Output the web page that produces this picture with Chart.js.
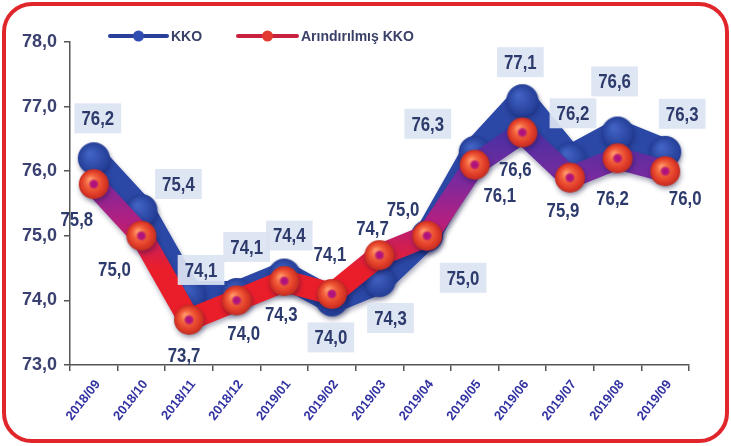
<!DOCTYPE html>
<html><head><meta charset="utf-8">
<script src="https://cdn.jsdelivr.net/npm/chart.js@4/dist/chart.umd.min.js"></script>
<style>
html,body{margin:0;padding:0;background:#fff;}
#wrap{position:relative;width:731px;height:446px;overflow:hidden;background:#fff;}
#c{position:absolute;left:0;top:0;}
#frame{position:absolute;left:2px;top:2px;right:2px;bottom:3px;border:4px solid #e0262a;border-radius:30px;pointer-events:none;}
</style></head><body>
<div id="wrap"><canvas id="c" width="731" height="446"></canvas><div id="frame"></div></div>
<script>
const categories = ['2018/09','2018/10','2018/11','2018/12','2019/01','2019/02','2019/03','2019/04','2019/05','2019/06','2019/07','2019/08','2019/09'];
const kkoValues = [76.2, 75.4, 74.1, 74.1, 74.4, 74.0, 74.3, 75.0, 76.3, 77.1, 76.2, 76.6, 76.3];
const adjustedValues = [75.8, 75.0, 73.7, 74.0, 74.3, 74.1, 74.7, 75.0, 76.1, 76.6, 75.9, 76.2, 76.0];
const seriesNames = ['KKO', 'Arındırılmış KKO'];
const yTicks = [73, 74, 75, 76, 77, 78];

const SANS = '"Liberation Sans", Arial, sans-serif';
const fmt = v => v.toFixed(1).replace('.', ',');

// label placement (pixel offsets from each point), styling only
const labelStyle = {
  0: { box: true, off: [[4,-40],[37,-26],[12,-24],[10,-47],[5,-39],[-1,37],[11,37],[36,42],[-47,-28],[-2,-38],[3,-45],[-3,-51],[17,-38]] },
  1: { box: false, off: [[-17,35],[-27,33],[-5,35],[7,33],[-3,33],[-2,-40],[-7,-27],[-24,-27],[25,30],[-7,37],[-7,33],[-5,40],[20,27]] }
};

function sphere(r, stops, dot) {
  const s = Math.ceil(r * 2 + 4);
  const c = document.createElement('canvas');
  c.width = c.height = s;
  const g = c.getContext('2d');
  const cx = s / 2;
  const grad = g.createRadialGradient(cx - r * 0.25, cx - r * 0.3, r * 0.1, cx, cx, r);
  stops.forEach(([o, col]) => grad.addColorStop(o, col));
  g.beginPath(); g.arc(cx, cx, r, 0, Math.PI * 2); g.fillStyle = grad; g.fill();
  if (dot) {
    const dg = g.createRadialGradient(cx, cx, 0, cx, cx, 5.5);
    dg.addColorStop(0, '#a8107e'); dg.addColorStop(0.6, '#b8187a'); dg.addColorStop(1, 'rgba(200,40,90,0)');
    g.beginPath(); g.arc(cx, cx, 5.5, 0, Math.PI * 2); g.fillStyle = dg; g.fill();
  }
  return c;
}
const redBall = sphere(15, [[0,'#ff9468'],[0.35,'#f2623c'],[0.75,'#e03c28'],[1,'#c02c22']], true);
const blueBall = sphere(16, [[0,'#4262c4'],[0.6,'#2f4ca8'],[1,'#243e96']], false);

function redGradient(context) {
  const chart = context.chart;
  const { ctx, chartArea, scales } = chart;
  if (!chartArea) return '#e0202a';
  const y = scales.y;
  const g = ctx.createLinearGradient(0, y.getPixelForValue(76.6), 0, y.getPixelForValue(74.5));
  g.addColorStop(0, '#4a30a2');
  g.addColorStop(0.35, '#7a2a9e');
  g.addColorStop(0.65, '#b21f80');
  g.addColorStop(1, '#ea1e2a');
  return g;
}

const shadowPlugin = {
  id: 'shadow',
  beforeDatasetDraw(chart) {
    const c = chart.ctx; c.save();
    c.shadowColor = 'rgba(10,10,60,0.35)'; c.shadowBlur = 5; c.shadowOffsetX = 1; c.shadowOffsetY = 3;
  },
  afterDatasetDraw(chart) { chart.ctx.restore(); }
};

const labelPlugin = {
  id: 'valueLabels',
  afterDatasetsDraw(chart) {
    const c = chart.ctx;
    const sx = 0.8;
    c.save();
    c.font = 'bold 21px ' + SANS;
    c.textAlign = 'center'; c.textBaseline = 'middle';
    chart.data.datasets.forEach((ds, i) => {
      const meta = chart.getDatasetMeta(i);
      const st = labelStyle[i];
      meta.data.forEach((pt, j) => {
        const txt = fmt(ds.data[j]);
        const x = pt.x + st.off[j][0], y = pt.y + st.off[j][1];
        if (st.box) {
          const w = c.measureText(txt).width * sx + 14, h = 30;
          c.fillStyle = 'rgba(220,228,242,0.92)';
          c.fillRect(x - w / 2, y - h / 2, w, h);
        }
        c.save();
        c.translate(x, y + 1);
        c.scale(sx, 1);
        c.fillStyle = '#2d3a6c';
        c.fillText(txt, 0, 0);
        c.restore();
      });
    });
    c.restore();
  }
};

const legendPlugin = {
  id: 'customLegend',
  afterDraw(chart) {
    const c = chart.ctx;
    const items = [
      { x0: 110, x1: 167, line: '#2a3f9a', dot: '#2f4db0' },
      { x0: 238, x1: 297, line: '#c8203e', dot: '#e23a30' }
    ];
    const y = 36;
    c.save();
    c.font = 'bold 14px ' + SANS;
    c.textBaseline = 'middle'; c.textAlign = 'left';
    items.forEach((it, i) => {
      c.strokeStyle = it.line; c.lineWidth = 4; c.lineCap = 'round';
      c.beginPath(); c.moveTo(it.x0, y); c.lineTo(it.x1, y); c.stroke();
      c.fillStyle = it.dot;
      c.beginPath(); c.arc((it.x0 + it.x1) / 2, y, 5.5, 0, Math.PI * 2); c.fill();
      c.fillStyle = '#3a4068';
      c.fillText(chart.data.datasets[i].label, it.x1 + 4, y + 1);
    });
    c.restore();
  }
};

new Chart(document.getElementById('c'), {
  type: 'line',
  data: {
    labels: categories,
    datasets: [
      {
        label: seriesNames[0], data: kkoValues, order: 1,
        borderColor: '#2b48a6', borderWidth: 26, borderJoinStyle: 'round', borderCapStyle: 'round',
        tension: 0, pointStyle: blueBall, pointRadius: 16, pointHoverRadius: 16, clip: false
      },
      {
        label: seriesNames[1], data: adjustedValues, order: 0,
        borderColor: redGradient, borderWidth: 22, borderJoinStyle: 'round', borderCapStyle: 'round',
        tension: 0, pointStyle: redBall, pointRadius: 15, pointHoverRadius: 15, clip: false
      }
    ]
  },
  options: {
    responsive: false,
    animation: false,
    events: [],
    layout: { padding: { top: 40, right: 16, left: 0, bottom: 0 } },
    plugins: { legend: { display: false }, tooltip: { enabled: false } },
    scales: {
      x: {
        offset: true,
        grid: { offset: true, drawOnChartArea: false, drawTicks: true, tickLength: 6, color: '#555', lineWidth: 1.5 },
        border: { color: '#555', width: 1.5 },
        ticks: {
          minRotation: 52, maxRotation: 52, padding: 6, labelOffset: 4,
          color: '#3232a2', font: { family: SANS, size: 13, weight: 'bold' }
        },
        afterFit(scale) { scale.height = 81; }
      },
      y: {
        min: 73, max: 78,
        afterBuildTicks(scale) { scale.ticks = yTicks.map(v => ({ value: v })); },
        grid: { drawOnChartArea: false, drawTicks: true, tickLength: 6, color: '#555', lineWidth: 1.5 },
        border: { color: '#555', width: 1.5 },
        ticks: {
          padding: 7, color: '#3a4070',
          font: { family: SANS, size: 18, weight: 'bold' },
          callback: v => fmt(v)
        },
        afterFit(scale) { scale.width = 70; }
      }
    }
  },
  plugins: [shadowPlugin, labelPlugin, legendPlugin]
});
</script>
</body></html>
